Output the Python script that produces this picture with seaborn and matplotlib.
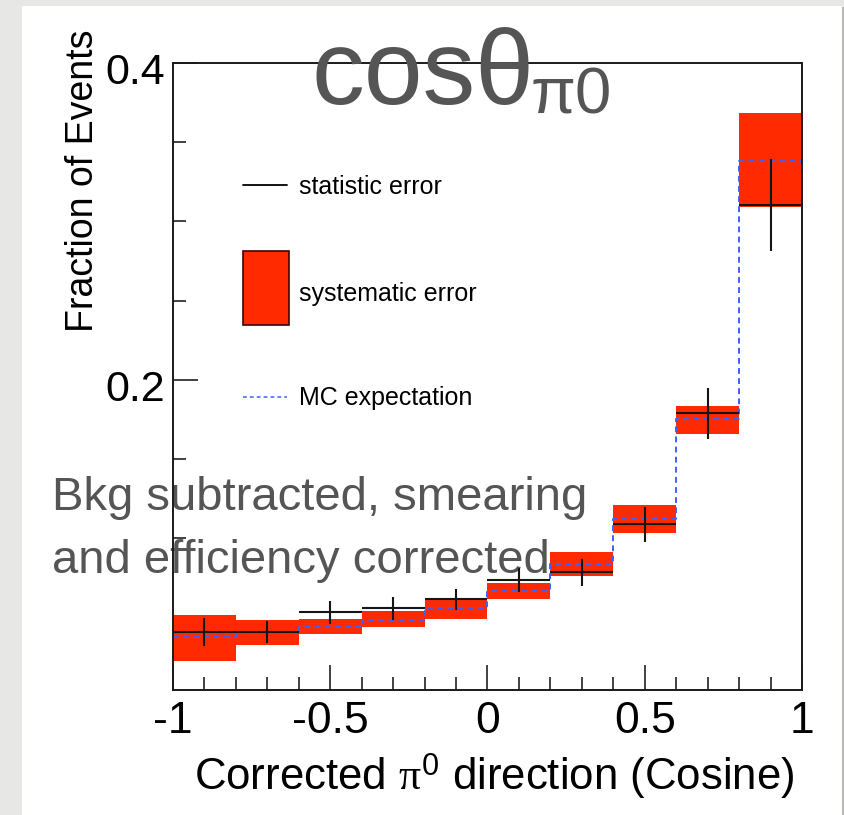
import numpy as np
import pandas as pd
import matplotlib
matplotlib.use("Agg")
import matplotlib.pyplot as plt
from matplotlib.patches import Rectangle
from matplotlib.lines import Line2D
from matplotlib.transforms import ScaledTranslation
import seaborn as sns

# Binning of the corrected pi0 direction (cosine)
bin_edges = [-1.0, -0.8, -0.6, -0.4, -0.2, 0.0, 0.2, 0.4, 0.6, 0.8, 1.0]
# Measured fraction of events per bin and its statistical error
data_frac = [0.0407, 0.0407, 0.0530, 0.0555, 0.0612, 0.0734, 0.0783, 0.1087, 0.1787, 0.3103]
stat_err = [0.0088, 0.0067, 0.0072, 0.0070, 0.0069, 0.0076, 0.0085, 0.0111, 0.0163, 0.0290]
# Systematic error band (lower / upper edge)
sys_low = [0.0223, 0.0323, 0.0392, 0.0439, 0.0489, 0.0612, 0.0761, 0.1034, 0.1660, 0.3093]
sys_high = [0.0513, 0.0481, 0.0487, 0.0538, 0.0614, 0.0713, 0.0913, 0.1209, 0.1835, 0.3684]
# Monte Carlo expectation
mc_expect = [0.0372, 0.0403, 0.0439, 0.0485, 0.0555, 0.0665, 0.0835, 0.1118, 0.1751, 0.3384]

x_ticks = [-1, -0.5, 0, 0.5, 1]
x_tick_labels = ["-1", "-0.5", "0", "0.5", "1"]
y_ticks = [0.2, 0.4]
y_tick_labels = ["0.2", "0.4"]

sns.set_theme(style="ticks")
plt.rcParams["font.family"] = ["Liberation Sans", "DejaVu Sans"]
plt.rcParams["mathtext.fontset"] = "custom"
plt.rcParams["mathtext.rm"] = "Liberation Sans"
plt.rcParams["mathtext.it"] = "Liberation Serif"

RED = "#ff2a00"
BLUE = "#4060ff"
GREY_TXT = "#555555"

W, H = 845, 815
fig = plt.figure(figsize=(W / 100, H / 100), dpi=100, facecolor="#e7e7e5")

# white slide card with a thin shadow on its right edge
fig.patches.append(Rectangle((24 / W, 0), (844 - 24) / W, (H - 7) / H,
                             transform=fig.transFigure, facecolor="#b9b9b7",
                             edgecolor="none", zorder=-3))
fig.patches.append(Rectangle((22 / W, 0), (842 - 22) / W, (H - 6) / H,
                             transform=fig.transFigure, facecolor="white",
                             edgecolor="none", zorder=-2))

ax = fig.add_axes([173 / W, 1 - 690 / H, 629 / W, 627 / H])
ax.set_facecolor("white")

edges = np.array(bin_edges)
centers = 0.5 * (edges[:-1] + edges[1:])
widths = np.diff(edges)
lo = np.array(sys_low)
hi = np.array(sys_high)

# systematic error boxes
ax.bar(centers, hi - lo, bottom=lo, width=widths, color=RED, linewidth=0, zorder=2)

# MC expectation as a dashed step histogram
mc_df = pd.DataFrame({"cos": centers, "frac": mc_expect})
sns.histplot(data=mc_df, x="cos", weights="frac", bins=bin_edges, element="step",
             fill=False, color=BLUE, linewidth=1.4, linestyle=(0, (3.0, 2.2)),
             ax=ax, zorder=3)

# data with statistical errors
ax.errorbar(centers, data_frac, xerr=widths / 2, yerr=stat_err, fmt="none",
            ecolor="#151515", elinewidth=1.5, capsize=0, zorder=4)

ax.set_xlim(-1, 1)
ax.set_ylim(0.004, 0.4)

ax.set_xticks(x_ticks)
ax.set_xticklabels(x_tick_labels)
ax.set_xticks(np.round(np.arange(-0.9, 1.0, 0.1), 2), minor=True)
ax.set_yticks(y_ticks)
ax.set_yticklabels(y_tick_labels)
ax.set_yticks([0.05, 0.1, 0.15, 0.25, 0.3, 0.35], minor=True)

ax.tick_params(axis="both", which="both", direction="in", top=False, right=False,
               color="#333333", width=1.3, labelcolor="black")
ax.tick_params(axis="x", which="major", length=18, labelsize=32, pad=8)
ax.tick_params(axis="x", which="minor", length=9.5)
ax.tick_params(axis="y", which="major", length=18, labelsize=31, pad=6)
ax.tick_params(axis="y", which="minor", length=9.5)
for lab in ax.get_yticklabels():
    lab.set_transform(lab.get_transform() + ScaledTranslation(0, -6 / 100, fig.dpi_scale_trans))

for s in ax.spines.values():
    s.set_color("#1a1a1a")
    s.set_linewidth(1.4)
    s.set_zorder(5)

ax.set_xlabel(r"Corrected $\pi^{0}$ direction (Cosine)", fontsize=31.5, color="black")
ax.xaxis.set_label_coords((494 - 173) / 629, (690 - 776) / 627)
ax.xaxis.label.set_verticalalignment("center")
ax.set_ylabel("Fraction of Events", fontsize=27, color="black")
ax.yaxis.set_label_coords((83 - 173) / 629, (690 - 181) / 627)
ax.yaxis.label.set_verticalalignment("center")
ax.yaxis.label.set_horizontalalignment("center")

# key for the three components
def ax_x(px):
    return (px - 173) / 629

def ax_y(py):
    return (690 - py) / 627

ax.add_line(Line2D([ax_x(243), ax_x(287)], [ax_y(185), ax_y(185)], transform=ax.transAxes,
                   color="black", linewidth=1.3, zorder=6))
ax.text(ax_x(299), ax_y(187), "statistic error", transform=ax.transAxes,
        fontsize=18, va="center", ha="left", color="black")
ax.add_patch(Rectangle((ax_x(243), ax_y(325)), ax_x(289) - ax_x(243), ax_y(251) - ax_y(325),
                       transform=ax.transAxes, facecolor=RED, edgecolor="#3a0800",
                       linewidth=1.2, zorder=6))
ax.text(ax_x(299), ax_y(294), "systematic error", transform=ax.transAxes,
        fontsize=18, va="center", ha="left", color="black")
ax.add_line(Line2D([ax_x(243), ax_x(287)], [ax_y(397), ax_y(397)], transform=ax.transAxes,
                   color=BLUE, linewidth=1.1, linestyle=(0, (2.5, 2.0)), zorder=6))
ax.text(ax_x(299), ax_y(398), "MC expectation", transform=ax.transAxes,
        fontsize=18, va="center", ha="left", color="black")

# annotation over the plot
ax.text(52 / W, 1 - 510 / H, "Bkg subtracted, smearing", transform=fig.transFigure,
        fontsize=34, color=GREY_TXT, ha="left", va="baseline", clip_on=False, zorder=1)
ax.text(52 / W, 1 - 573 / H, "and efficiency corrected", transform=fig.transFigure,
        fontsize=34, color=GREY_TXT, ha="left", va="baseline", clip_on=False, zorder=1)

# big title
fig.text(312 / W, 1 - 104 / H, "cosθ", fontsize=76, color=GREY_TXT, ha="left", va="baseline")
fig.text(531 / W, 1 - 113 / H, "π0", fontsize=47, color=GREY_TXT, ha="left", va="baseline")

fig.savefig("out.png", dpi=100, facecolor=fig.get_facecolor())
